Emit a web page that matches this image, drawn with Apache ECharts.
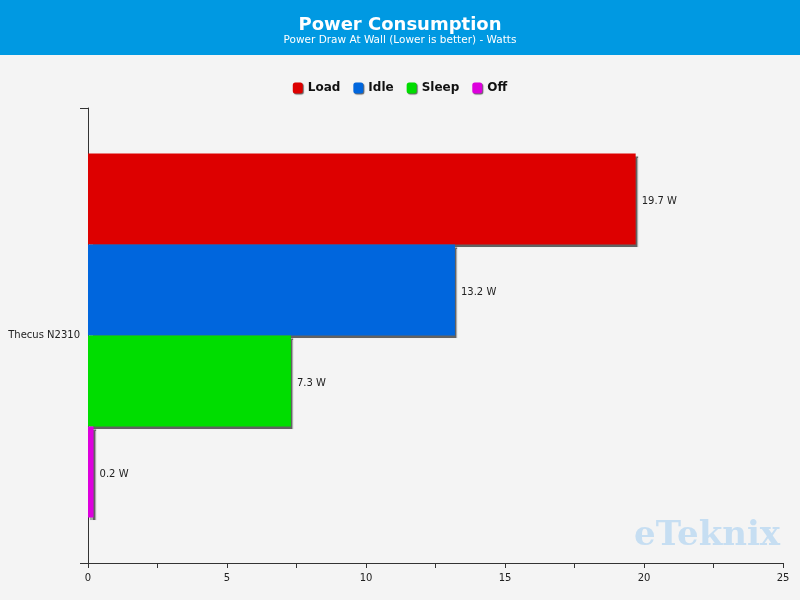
<!DOCTYPE html>
<html>
<head>
<meta charset="utf-8">
<script src="https://cdn.jsdelivr.net/npm/echarts@6/dist/echarts.min.js"></script>
<style>
  html, body { margin: 0; padding: 0; background: #f4f4f4; }
  #chart { width: 800px; height: 600px; }
</style>
</head>
<body>
<div id="chart"></div>
<script>
// data
let categories = ["Thecus N2310"];
let seriesNames = ["Load", "Idle", "Sleep", "Off"];
let seriesValues = [[19.7], [13.2], [7.3], [0.2]];
let seriesColors = ["#dd0000", "#0066dd", "#00dd00", "#dd00dd"];
let xTicks = [0, 5, 10, 15, 20, 25];

let chart = echarts.init(document.getElementById('chart'));

let series = [];
for (let i = 0; i < seriesNames.length; i++) {
    series.push({
        name: seriesNames[i],
        type: 'bar',
        data: seriesValues[i],
        barGap: '0%',
        barCategoryGap: '20%',
        itemStyle: {
            color: seriesColors[i],
            shadowColor: 'rgba(0,0,0,0.6)',
            shadowOffsetX: 2,
            shadowOffsetY: 2,
            shadowBlur: 1
        },
        label: {
            show: true,
            position: 'right',
            distance: 6,
            offset: [0, 2],
            color: '#222',
            fontFamily: 'DejaVu Sans',
            fontSize: 10,
            formatter: function (p) { return p.value + ' W'; }
        }
    });
}

let option = {
    backgroundColor: '#f4f4f4',
    graphic: [
        { type: 'rect', left: 0, top: 0, shape: { width: 800, height: 55 }, style: { fill: '#0099e2' }, z: -1 },
        { type: 'text', left: 634, top: 519, style: { text: 'eTeknix', font: 'bold 34px "DejaVu Serif"', fill: '#c6def2' }, z: -1 }
    ],
    title: {
        text: 'Power Consumption',
        subtext: 'Power Draw At Wall (Lower is better) - Watts',
        left: 'center',
        top: 11,
        itemGap: 1,
        textStyle: { color: '#fff', fontSize: 18, fontWeight: 'bold', fontFamily: 'DejaVu Sans' },
        subtextStyle: { color: '#fff', fontSize: 10.5, fontFamily: 'DejaVu Sans' }
    },
    legend: {
        top: 77,
        left: 'center',
        itemWidth: 10,
        itemHeight: 11,
        itemGap: 13,
        icon: 'roundRect',
        data: seriesNames,
        textStyle: { color: '#111', fontWeight: 'bold', fontSize: 12, fontFamily: 'DejaVu Sans' },
        itemStyle: { shadowColor: 'rgba(0,0,0,0.6)', shadowOffsetX: 1, shadowOffsetY: 1, shadowBlur: 1 }
    },
    grid: { left: 88, right: 17, top: 108, bottom: 37, containLabel: false, outerBoundsMode: 'none' },
    xAxis: {
        type: 'value',
        min: xTicks[0],
        max: xTicks[xTicks.length - 1],
        interval: 5,
        axisLine: { show: true, lineStyle: { color: '#333' } },
        axisTick: { show: true, length: 5, lineStyle: { color: '#333' } },
        minorTick: { show: true, splitNumber: 2, length: 5, lineStyle: { color: '#333' } },
        splitLine: { show: false },
        axisLabel: { color: '#222', fontSize: 10, fontFamily: 'DejaVu Sans', margin: 10 }
    },
    yAxis: {
        type: 'category',
        data: categories,
        inverse: true,
        axisLine: { show: true, lineStyle: { color: '#333' } },
        axisTick: { show: true, length: 8, lineStyle: { color: '#333' } },
        axisLabel: { color: '#222', fontSize: 10, fontFamily: 'DejaVu Sans', margin: 8 }
    },
    series: series
};

chart.setOption(option);
</script>
</body>
</html>
